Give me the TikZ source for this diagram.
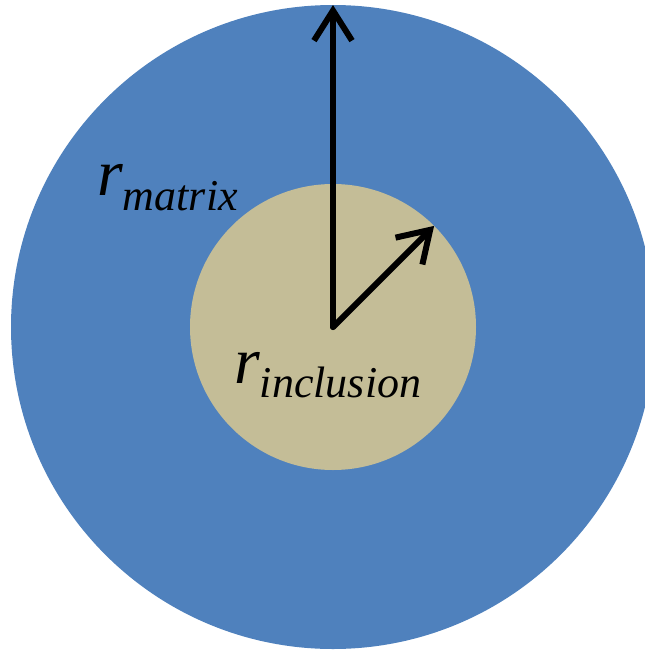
\documentclass[tikz,border=0pt]{standalone}
\usepackage{fontspec}
\setmainfont{Liberation Serif}
\usetikzlibrary{arrows.meta}
\definecolor{matrixblue}{HTML}{4F81BD}
\definecolor{inclusiontan}{HTML}{C4BD97}

\begin{document}
\begin{tikzpicture}[
    x=1pt, y=-1pt,
    disc/.style={circle, inner sep=0pt, outer sep=0pt},
    radius arrow/.style={-{Straight Barb[length=30pt,width=38pt]},
                         line width=6pt, line cap=round, line join=round},
    symbol/.style={anchor=base west, inner sep=0pt, font=\itshape}
  ]
  \clip (0,0) rectangle (645,651);

  %% matrix and inclusion
  \node[disc, fill=matrixblue, minimum size=644pt] (matrix) at (333,327) {};
  \node[disc, fill=inclusiontan, minimum size=286pt] (inclusion) at (333,327) {};

  %% radii
  \draw[radius arrow] (inclusion.center) -- (matrix.north);
  \draw[radius arrow] (inclusion.center) -- (inclusion.45);

  %% labels
  \node[symbol] (rmatrix) at (97,195)
        {\fontsize{66}{66}\selectfont r\fontsize{44}{44}\selectfont\raisebox{-15pt}{matrix}};
  \node[symbol] (rinclusion) at (234,383)
        {\fontsize{66}{66}\selectfont r\fontsize{44}{44}\selectfont\raisebox{-14pt}{inclusion}};
\end{tikzpicture}
\end{document}
